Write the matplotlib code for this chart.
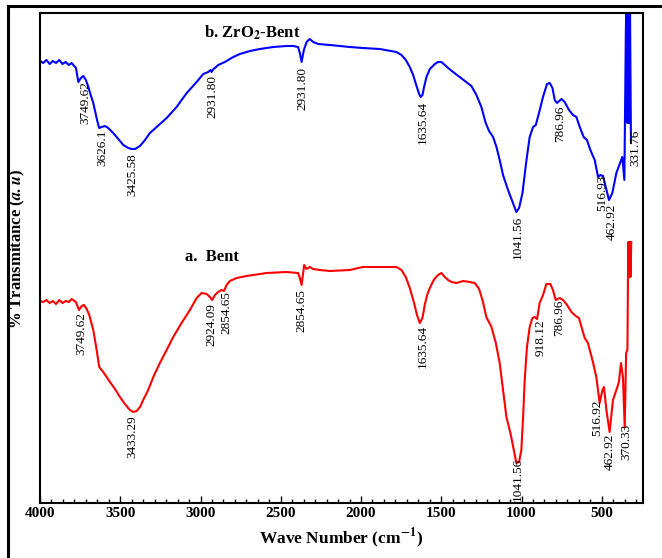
import matplotlib
matplotlib.use('Agg')
import matplotlib.pyplot as plt
from matplotlib.ticker import MultipleLocator, NullLocator
from matplotlib.patches import Rectangle

# --- spectra (wavenumber, relative transmittance) ---
# b. ZrO2-Bent
blue_wn = [4000, 3980, 3960, 3940, 3920, 3900, 3880, 3860, 3840, 3820,
           3803, 3776, 3761, 3745, 3730, 3714, 3699, 3684, 3668, 3651,
           3643, 3631, 3616, 3595, 3575, 3544, 3512, 3481, 3450, 3429,
           3408, 3377, 3346, 3315, 3273, 3211, 3149, 3086, 3024, 2983,
           2952, 2938, 2931, 2920, 2910, 2890, 2848, 2796, 2755, 2692,
           2630, 2547, 2464, 2423, 2392, 2381, 2370, 2356, 2339, 2319,
           2298, 2267, 2194, 2070, 1989, 1883, 1779, 1748, 1721, 1696,
           1675, 1654, 1638, 1628, 1617, 1607, 1592, 1571, 1540, 1520,
           1499, 1478, 1457, 1426, 1385, 1343, 1312, 1281, 1250, 1223,
           1202, 1177, 1156, 1136, 1115, 1084, 1053, 1032, 1015, 994,
           969, 949, 928, 911, 891, 866, 841, 824, 807, 793,
           779, 751, 731, 704, 679, 658, 637, 613, 592, 571,
           544, 523, 509, 492, 475, 455, 434, 409, 384, 372,
           359, 350, 345, 340, 335, 330, 325, 318]
blue_t = [442, 440, 443, 439, 442, 440, 443, 439, 441, 438,
          440, 435, 421, 425, 427, 423, 416, 408, 400, 388,
          382, 375, 376, 377, 375, 370, 364, 358, 355, 354,
          354, 357, 363, 370, 376, 385, 396, 410, 421, 429,
          431, 433, 431, 434, 435, 438, 441, 446, 449, 452,
          454, 456, 457, 457, 456, 450, 441, 453, 461, 464,
          461, 459, 458, 456, 455, 454, 451, 448, 443, 436,
          428, 417, 409, 406, 408, 416, 426, 434, 439, 441,
          441, 438, 435, 431, 426, 421, 417, 408, 396, 380,
          372, 366, 356, 343, 328, 313, 300, 291, 295, 310,
          343, 366, 376, 378, 390, 406, 419, 420, 415, 403,
          400, 404, 401, 393, 388, 386, 376, 366, 363, 353,
          343, 326, 328, 327, 316, 303, 310, 330, 341, 346,
          323, 470, 520, 380, 520, 380, 520, 360]

# a. Bent
red_wn = [4000, 3980, 3960, 3940, 3920, 3900, 3880, 3860, 3840, 3820,
          3803, 3776, 3757, 3740, 3726, 3709, 3693, 3668, 3647, 3631,
          3606, 3585, 3564, 3533, 3502, 3471, 3440, 3419, 3398, 3377,
          3357, 3326, 3294, 3253, 3211, 3170, 3118, 3066, 3024, 2993,
          2962, 2941, 2927, 2910, 2890, 2869, 2854, 2837, 2817, 2775,
          2713, 2588, 2464, 2392, 2381, 2370, 2360, 2354, 2339, 2319,
          2298, 2256, 2194, 2070, 1989, 1883, 1779, 1748, 1721, 1696,
          1671, 1651, 1634, 1617, 1603, 1588, 1571, 1547, 1520, 1499,
          1478, 1457, 1436, 1405, 1364, 1323, 1291, 1264, 1240, 1219,
          1187, 1160, 1136, 1115, 1094, 1069, 1048, 1032, 1015, 1001,
          990, 980, 966, 949, 932, 918, 903, 887, 866, 845,
          820, 804, 787, 762, 741, 716, 689, 662, 642, 621,
          606, 586, 555, 534, 513, 496, 486, 471, 451, 430,
          409, 393, 380, 368, 357, 348, 340, 335, 330, 326,
          321, 316]
red_t = [202, 201, 203, 200, 202, 199, 203, 200, 202, 201,
         204, 201, 193, 197, 198, 194, 188, 173, 153, 136,
         131, 126, 121, 114, 106, 99, 93, 91, 92, 96,
         103, 113, 126, 140, 153, 166, 180, 193, 205, 210,
         209, 206, 203, 208, 211, 213, 212, 218, 222, 225,
         227, 230, 231, 230, 225, 218, 230, 238, 234, 236,
         234, 233, 232, 233, 236, 236, 236, 233, 226, 215,
         201, 188, 180, 185, 198, 208, 215, 223, 228, 230,
         226, 223, 221, 220, 222, 221, 220, 214, 201, 186,
         176, 160, 140, 113, 86, 70, 53, 40, 41, 53,
         86, 123, 156, 176, 185, 186, 184, 200, 208, 219,
         219, 213, 203, 205, 203, 198, 191, 187, 185, 173,
         165, 160, 141, 126, 100, 113, 116, 93, 71, 103,
         113, 121, 140, 126, 76, 150, 153, 261, 226, 261,
         226, 261]

# peak labels
blue_labels = ['3749.62', '3626.1', '3425.58', '2931.80', '2931.80', '1635.64',
               '1041.56', '786.96', '516.93', '462.92', '331.76']
blue_label_x = [3720, 3614, 3427, 2923, 2362, 1615, 1023, 762, 494, 438, 289]
blue_label_y = [400, 355, 328, 406, 414, 381, 266, 379, 310, 281, 355]

red_labels = ['3749.62', '3433.29', '2924.09', '2854.65', '2854.65', '1635.64',
              '1041.56', '918.12', '786.96', '516.92', '462.92', '370.33']
red_label_x = [3745, 3427, 2929, 2836, 2369, 1615, 1023, 880, 768, 525, 451, 345]
red_label_y = [169, 66, 178, 190, 192, 157, 24, 165, 185, 85, 51, 61]

plt.rcParams['font.family'] = 'Liberation Serif'
plt.rcParams['mathtext.fontset'] = 'stix'

fig = plt.figure(figsize=(6.62, 5.58), dpi=100)
ax = fig.add_axes([40 / 662, 55 / 558, 603 / 662, 490 / 558])

ax.plot(blue_wn, blue_t, color='#0000ff', lw=1.5, solid_joinstyle='round')
ax.plot(red_wn, red_t, color='#ff0000', lw=1.5, solid_joinstyle='round')

ax.set_xlim(4000, 243)
ax.set_ylim(0, 490)

ax.yaxis.set_major_locator(NullLocator())
ax.xaxis.set_major_locator(MultipleLocator(500))
ax.xaxis.set_minor_locator(MultipleLocator(500 / 7))
ax.tick_params(axis='x', which='both', direction='in', width=1, labelsize=11, pad=3)
ax.tick_params(axis='x', which='major', length=5)
ax.tick_params(axis='x', which='minor', length=3)
for lbl in ax.get_xticklabels():
    lbl.set_fontweight('bold')
for sp in ax.spines.values():
    sp.set_linewidth(1.5)

for s, x, y in zip(blue_labels, blue_label_x, blue_label_y):
    ax.text(x, y, s, rotation=90, ha='center', va='center', fontsize=9.5)
for s, x, y in zip(red_labels, red_label_x, red_label_y):
    ax.text(x, y, s, rotation=90, ha='center', va='center', fontsize=9.5)

ax.text(2680, 470, r'b. ZrO$_{\mathbf{2}}$-Bent', fontsize=12, fontweight='bold',
        ha='center', va='center')
ax.text(2929, 246, 'a.  Bent', fontsize=12, fontweight='bold', ha='center', va='center')

fig.text(17.5 / 662, 0.554, r'% Transmitance ($\mathbfit{a.u}$)', rotation=90,
         fontsize=12, fontweight='bold', ha='center', va='center')
fig.text(341.5 / 662, 1 - 538 / 558, r'Wave Number (cm$^{\mathbf{-1}}$)',
         fontsize=12.5, fontweight='bold', ha='center', va='center')

# outer frame (right and bottom edges fall outside the image)
fig.add_artist(Rectangle((7.5 / 662, -0.05), 1.2, 1 - 6 / 558 + 0.05,
                         transform=fig.transFigure, fill=False, lw=2.2, ec='black'))

fig.savefig('out.png', dpi=100)
plt.close(fig)
